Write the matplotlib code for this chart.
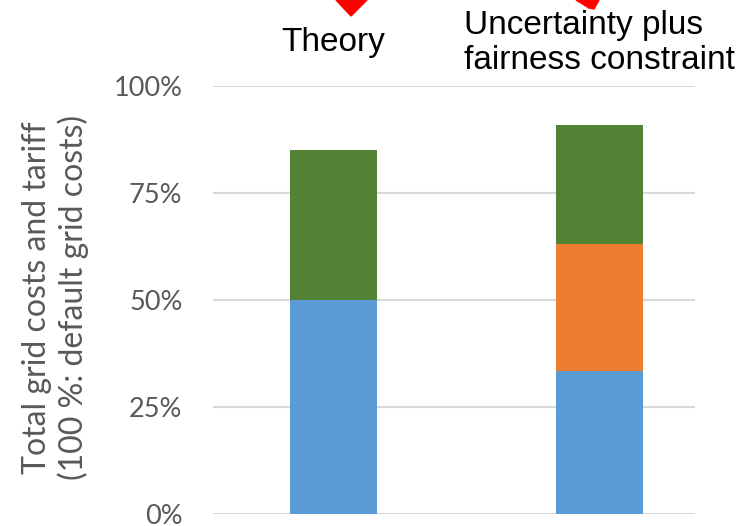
import matplotlib
matplotlib.use("Agg")
import matplotlib.pyplot as plt
from matplotlib.patches import Polygon
from matplotlib.transforms import blended_transform_factory
import numpy as np

categories = ["Theory", "Uncertainty plus\nfairness constraint"]
blue_part = [0.50, 0.335]
orange_part = [0.0, 0.295]
green_part = [0.35, 0.28]
yticks = [0, 0.25, 0.5, 0.75, 1.0]
ytick_labels = ["0%", "25%", "50%", "75%", "100%"]
y_label = "Total grid costs and tariff\n(100 %: default grid costs)"

c_blue = "#5b9bd5"
c_orange = "#ed7d31"
c_green = "#548235"
c_grid = "#d9d9d9"
c_text = "#595959"

fig = plt.figure(figsize=(7.38, 5.26), dpi=100)
ax = fig.add_axes([213 / 738, 1 - 514 / 526, 482 / 738, 428 / 526])

x = np.arange(len(categories))
w = 0.327
blue = np.array(blue_part)
orange = np.array(orange_part)
green = np.array(green_part)
ax.bar(x, blue, w, color=c_blue, zorder=3)
ax.bar(x, orange, w, bottom=blue, color=c_orange, zorder=3)
ax.bar(x, green, w, bottom=blue + orange, color=c_green, zorder=3)

ax.set_xlim(-0.453, 1.359)
ax.set_ylim(0, 1.0)
ax.set_yticks(yticks)
ax.set_yticklabels(ytick_labels, fontsize=19.5, color=c_text, family="Lato")
ax.tick_params(axis="y", length=0, pad=22)
ax.set_xticks([])
for s in ax.spines.values():
    s.set_visible(False)
ax.yaxis.grid(True, color=c_grid, linewidth=1.5, zorder=0)
ax.set_axisbelow(True)

ax.set_ylabel(y_label, fontsize=23, color=c_text, family="Lato", linespacing=1.2)
ax.yaxis.set_label_coords(-0.258, 0.505)

# category labels above the bars
trans = blended_transform_factory(ax.transData, fig.transFigure)
for xi, lab in zip(x, categories):
    ax.text(xi, 1 - 43 / 526, lab, transform=trans, ha="center", va="center",
            multialignment="left", fontsize=24, family="Liberation Sans",
            color="black", linespacing=1.15)

# red arrow heads at the top edge
px = lambda pts: [(a / 738, 1 - b / 526) for a, b in pts]
fig.patches.append(Polygon(px([(336, 0), (367, 0), (351, 16)]), closed=True,
                           color="red", transform=fig.transFigure))
fig.patches.append(Polygon(px([(576, 0), (599, 0), (594, 9), (589, 8)]), closed=True,
                           color="red", transform=fig.transFigure))

fig.savefig("out.png", dpi=100)
